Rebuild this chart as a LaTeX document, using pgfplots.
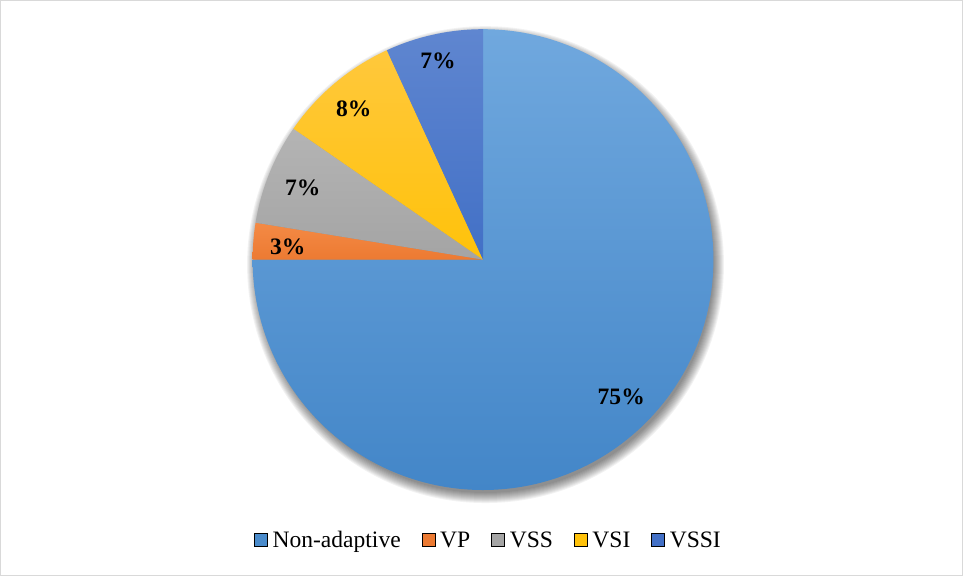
\documentclass[border=0pt]{standalone}
\usepackage{pgfplots}
\pgfplotsset{compat=1.18}
\usepackage{pgfplotstable}
\usepackage{fontspec}
\setmainfont{Liberation Serif}
\definecolor{naT}{HTML}{70A8DE}
\definecolor{naB}{HTML}{4386C8}
\definecolor{vpT}{HTML}{F48A45}
\definecolor{vpB}{HTML}{EC7A32}
\definecolor{vssT}{HTML}{B4B4B4}
\definecolor{vssB}{HTML}{A4A4A4}
\definecolor{vsiT}{HTML}{FFC83C}
\definecolor{vsiB}{HTML}{FFC20A}
\definecolor{vssiT}{HTML}{5F86D0}
\definecolor{vssiB}{HTML}{4270C6}
\definecolor{frame}{HTML}{D9D9D9}
\pgfplotstableread{
pct
75.00
2.56
7.06
8.53
6.85
}\piedata
\begin{document}
\begin{tikzpicture}
\pgfplotstablegetelem{0}{pct}\of\piedata \pgfmathsetmacro\pA{\pgfplotsretval}
\pgfplotstablegetelem{1}{pct}\of\piedata \pgfmathsetmacro\pB{\pgfplotsretval}
\pgfplotstablegetelem{2}{pct}\of\piedata \pgfmathsetmacro\pC{\pgfplotsretval}
\pgfplotstablegetelem{3}{pct}\of\piedata \pgfmathsetmacro\pD{\pgfplotsretval}
\pgfplotstablegetelem{4}{pct}\of\piedata \pgfmathsetmacro\pE{\pgfplotsretval}
\pgfmathsetmacro\aA{90}
\pgfmathsetmacro\aB{\aA-3.6*\pA}
\pgfmathsetmacro\aC{\aB-3.6*\pB}
\pgfmathsetmacro\aD{\aC-3.6*\pC}
\pgfmathsetmacro\aE{\aD-3.6*\pD}
\pgfmathsetmacro\aF{\aE-3.6*\pE}
\begin{axis}[
  x=1pt, y=1pt, xmin=0, xmax=963, ymin=0, ymax=577,
  scale only axis, hide axis, clip=false,
  legend columns=5,
  legend image code/.code={\fill[#1] (0pt,-6.5pt) rectangle (13pt,6.5pt);},
  legend style={draw=none, fill=none, at={(axis cs:487.5,37)}, anchor=center,
    font=\fontsize{23.5}{28}\selectfont,
    nodes={inner sep=0pt},
    /tikz/every odd column/.append style={column sep=5pt},
    /tikz/every even column/.append style={column sep=21pt}},
]
\draw[frame, line width=1.3pt] (axis cs:1.5,1.5) rectangle (axis cs:961.5,575.5);
% soft shadow
\pgfplotsinvokeforeach{228,229,230,231,232,233,234,235,236,237,238}{
  \fill[black, opacity=0.05] (axis cs:485.5,312) circle[radius=#1pt];
}
\path[top color=naT, bottom color=naB] (axis cs:483,317) -- ++(\aA:230pt) arc[start angle=\aA, end angle=\aB, radius=230pt] -- cycle;
\path[top color=vpT, bottom color=vpB] (axis cs:483,317) -- ++(\aB:230pt) arc[start angle=\aB, end angle=\aC, radius=230pt] -- cycle;
\path[top color=vssT, bottom color=vssB] (axis cs:483,317) -- ++(\aC:230pt) arc[start angle=\aC, end angle=\aD, radius=230pt] -- cycle;
\path[top color=vsiT, bottom color=vsiB] (axis cs:483,317) -- ++(\aD:230pt) arc[start angle=\aD, end angle=\aE, radius=230pt] -- cycle;
\path[top color=vssiT, bottom color=vssiB] (axis cs:483,317) -- ++(\aE:230pt) arc[start angle=\aE, end angle=\aF, radius=230pt] -- cycle;
\begin{scope}[every node/.style={font=\fontsize{23.5}{28}\selectfont\bfseries, inner sep=0pt}]
\node at (axis cs:621,180.5) {75\%};
\node at (axis cs:288,330) {3\%};
\node at (axis cs:303,389) {7\%};
\node at (axis cs:354,468) {8\%};
\node at (axis cs:438,515) {7\%};
\end{scope}
\addlegendimage{fill=naB!85!naT}
\addlegendentry{Non-adaptive}
\addlegendimage{fill=vpB}
\addlegendentry{VP}
\addlegendimage{fill=vssB}
\addlegendentry{VSS}
\addlegendimage{fill=vsiB}
\addlegendentry{VSI}
\addlegendimage{fill=vssiB}
\addlegendentry{VSSI}
\end{axis}
\end{tikzpicture}
\end{document}
